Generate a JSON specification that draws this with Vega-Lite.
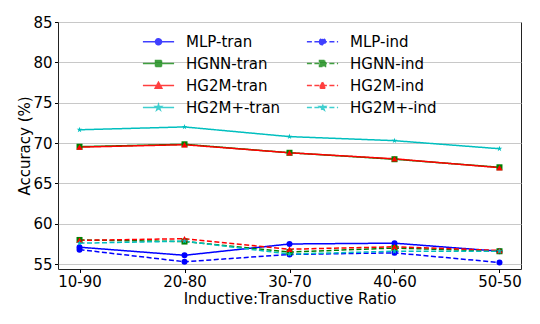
{
  "$schema": "https://vega.github.io/schema/vega-lite/v6.json",
  "width": 463,
  "height": 247,
  "autosize": {"type": "none"},
  "padding": {"left": 58, "top": 22, "right": 19, "bottom": 55},
  "config": {
    "font": "DejaVu Sans",
    "view": {"stroke": "#222222", "strokeWidth": 1},
    "axis": {"labelFont": "DejaVu Sans", "titleFont": "DejaVu Sans", "labelColor": "#000", "titleColor": "#000", "titleFontWeight": "normal", "tickColor": "#000", "domain": false}
  },
  "data": {"values": [
    {"ratio": "10-90", "series": "MLP-tran", "acc": 57.1},
    {"ratio": "20-80", "series": "MLP-tran", "acc": 56.1},
    {"ratio": "30-70", "series": "MLP-tran", "acc": 57.5},
    {"ratio": "40-60", "series": "MLP-tran", "acc": 57.6},
    {"ratio": "50-50", "series": "MLP-tran", "acc": 56.6},
    {"ratio": "10-90", "series": "MLP-ind", "acc": 56.8},
    {"ratio": "20-80", "series": "MLP-ind", "acc": 55.3},
    {"ratio": "30-70", "series": "MLP-ind", "acc": 56.2},
    {"ratio": "40-60", "series": "MLP-ind", "acc": 56.4},
    {"ratio": "50-50", "series": "MLP-ind", "acc": 55.2},
    {"ratio": "10-90", "series": "HGNN-tran", "acc": 69.55},
    {"ratio": "20-80", "series": "HGNN-tran", "acc": 69.85},
    {"ratio": "30-70", "series": "HGNN-tran", "acc": 68.8},
    {"ratio": "40-60", "series": "HGNN-tran", "acc": 68.0},
    {"ratio": "50-50", "series": "HGNN-tran", "acc": 67.0},
    {"ratio": "10-90", "series": "HGNN-ind", "acc": 58.0},
    {"ratio": "20-80", "series": "HGNN-ind", "acc": 57.8},
    {"ratio": "30-70", "series": "HGNN-ind", "acc": 56.5},
    {"ratio": "40-60", "series": "HGNN-ind", "acc": 57.0},
    {"ratio": "50-50", "series": "HGNN-ind", "acc": 56.6},
    {"ratio": "10-90", "series": "HG2M-tran", "acc": 69.5},
    {"ratio": "20-80", "series": "HG2M-tran", "acc": 69.8},
    {"ratio": "30-70", "series": "HG2M-tran", "acc": 68.8},
    {"ratio": "40-60", "series": "HG2M-tran", "acc": 68.05},
    {"ratio": "50-50", "series": "HG2M-tran", "acc": 66.95},
    {"ratio": "10-90", "series": "HG2M-ind", "acc": 57.95},
    {"ratio": "20-80", "series": "HG2M-ind", "acc": 58.15},
    {"ratio": "30-70", "series": "HG2M-ind", "acc": 56.85},
    {"ratio": "40-60", "series": "HG2M-ind", "acc": 57.15},
    {"ratio": "50-50", "series": "HG2M-ind", "acc": 56.7},
    {"ratio": "10-90", "series": "HG2M+-tran", "acc": 71.65},
    {"ratio": "20-80", "series": "HG2M+-tran", "acc": 72.0},
    {"ratio": "30-70", "series": "HG2M+-tran", "acc": 70.8},
    {"ratio": "40-60", "series": "HG2M+-tran", "acc": 70.3},
    {"ratio": "50-50", "series": "HG2M+-tran", "acc": 69.3},
    {"ratio": "10-90", "series": "HG2M+-ind", "acc": 57.6},
    {"ratio": "20-80", "series": "HG2M+-ind", "acc": 57.85},
    {"ratio": "30-70", "series": "HG2M+-ind", "acc": 56.25},
    {"ratio": "40-60", "series": "HG2M+-ind", "acc": 56.6},
    {"ratio": "50-50", "series": "HG2M+-ind", "acc": 56.6}
  ]},
  "encoding": {
    "x": {
      "field": "ratio", "type": "ordinal",
      "scale": {"type": "point", "padding": 0.205},
      "axis": {"title": "Inductive:Transductive Ratio", "labelAngle": 0, "labelFontSize": 15, "titleFontSize": 15, "tickSize": 3.5, "labelPadding": 2, "titlePadding": 2, "grid": false}
    },
    "y": {
      "field": "acc", "type": "quantitative",
      "scale": {"domain": [54.4, 85], "nice": false, "zero": false},
      "axis": {"title": "Accuracy (%)", "values": [55, 60, 65, 70, 75, 80, 85], "labelFontSize": 15, "titleFontSize": 15, "tickSize": 3.5, "labelPadding": 2.5, "titleX": -34, "titleBaseline": "middle", "grid": true, "gridColor": "#c8c8c8", "gridWidth": 1}
    },
    "color": {
      "field": "series", "type": "nominal",
      "scale": {
        "domain": ["MLP-tran", "HGNN-tran", "HG2M-tran", "HG2M+-tran", "MLP-ind", "HGNN-ind", "HG2M-ind", "HG2M+-ind"],
        "range": ["#0000ff", "#008000", "#ff0000", "#00bfbf", "#0000ff", "#008000", "#ff0000", "#00bfbf"]
      },
      "legend": {
        "title": null,
        "orient": "none",
        "legendX": 93,
        "legendY": 12,
        "columns": 2,
        "columnPadding": 22,
        "rowPadding": 6,
        "labelFontSize": 15,
        "labelFont": "DejaVu Sans",
        "labelColor": "#000",
        "symbolSize": 144,
        "symbolStrokeWidth": 1.5,
        "labelOffset": 20,
        "encode": {
          "symbols": {
            "update": {
              "shape": {"signal": "indexof(datum.value,'MLP')>=0 ? 'M-2.6,0L2.6,0M-0.5,0A0.5,0.5,0,1,0,0.5,0A0.5,0.5,0,1,0,-0.5,0Z' : indexof(datum.value,'HGNN')>=0 ? 'M-2.6,0L2.6,0M-0.5,-0.5L0.5,-0.5L0.5,0.5L-0.5,0.5Z' : indexof(datum.value,'HG2M+')>=0 ? 'M-2.6,0L2.6,0M0,-0.5L0.113,-0.155L0.476,-0.155L0.182,0.059L0.294,0.405L0,0.191L-0.294,0.405L-0.182,0.059L-0.476,-0.155L-0.113,-0.155Z' : 'M-2.6,0L2.6,0M0,-0.55L0.55,0.45L-0.55,0.45Z'"},
              "fill": {"scale": "color", "field": "value"},
              "stroke": {"scale": "color", "field": "value"},
              "opacity": {"value": 0.75}
            }
          }
        }
      }
    }
  },
  "layer": [
    {
      "mark": {"type": "line", "strokeWidth": 1.5},
      "encoding": {
        "strokeDash": {
          "field": "series", "type": "nominal",
          "scale": {
            "domain": ["MLP-tran", "HGNN-tran", "HG2M-tran", "HG2M+-tran", "MLP-ind", "HGNN-ind", "HG2M-ind", "HG2M+-ind"],
            "range": [[1, 0], [1, 0], [1, 0], [1, 0], [5, 2.5], [5, 2.5], [5, 2.5], [5, 2.5]]
          }
        }
      }
    },
    {
      "transform": [{"filter": "indexof(datum.series,'MLP')>=0"}],
      "mark": {"type": "point", "filled": true, "opacity": 1, "shape": "circle", "size": 36}
    },
    {
      "transform": [{"filter": "indexof(datum.series,'HGNN')>=0"}],
      "mark": {"type": "point", "filled": true, "opacity": 1, "shape": "square", "size": 36}
    },
    {
      "transform": [{"filter": "indexof(datum.series,'HG2M-')>=0"}],
      "mark": {"type": "point", "filled": true, "opacity": 1, "shape": "triangle-up", "size": 40}
    },
    {
      "transform": [{"filter": "indexof(datum.series,'HG2M+')>=0"}],
      "mark": {"type": "point", "filled": true, "opacity": 1, "shape": "M0,-1L0.225,-0.309L0.951,-0.309L0.363,0.118L0.588,0.809L0,0.382L-0.588,0.809L-0.363,0.118L-0.951,-0.309L-0.225,-0.309Z", "size": 36}
    }
  ]
}
